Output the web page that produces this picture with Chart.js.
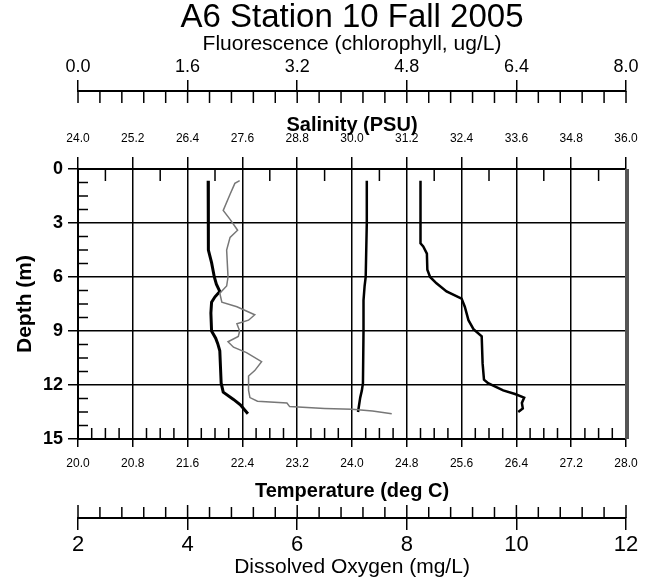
<!DOCTYPE html>
<html>
<head>
<meta charset="utf-8">
<script src="https://cdn.jsdelivr.net/npm/chart.js@4.4.1/dist/chart.umd.min.js"></script>
<style>
  body { margin: 0; background: #fff; }
  canvas { display: block; }
</style>
</head>
<body>
<canvas id="grafico" width="653" height="582"></canvas>
<script>
// profile data (depth in m)
var tempDepth = [0.65, 2.0, 3.5, 4.5, 5.2, 6.0, 6.4, 6.8, 7.1, 7.4, 8.0, 9.0, 9.4, 9.7, 10.1, 11.0, 11.9, 12.4, 12.8, 13.1, 13.6];
var temperatura = [21.90, 21.90, 21.90, 21.91, 21.95, 21.99, 22.02, 22.07, 22.00, 21.95, 21.94, 21.95, 22.01, 22.04, 22.07, 22.08, 22.09, 22.12, 22.27, 22.37, 22.48];

var fluorDepth = [0.65, 0.8, 1.4, 2.3, 2.8, 3.4, 3.8, 4.5, 6.0, 6.5, 6.9, 7.4, 7.65, 8.1, 8.4, 8.6, 9.0, 9.3, 9.6, 9.9, 10.2, 10.7, 11.2, 11.5, 12.3, 12.7, 12.9, 13.0, 13.2, 13.3, 13.35, 13.45, 13.6];
var fluorescencia = [2.36, 2.29, 2.22, 2.12, 2.22, 2.33, 2.22, 2.17, 2.19, 2.17, 2.07, 2.10, 2.32, 2.58, 2.49, 2.32, 2.36, 2.34, 2.19, 2.27, 2.46, 2.68, 2.58, 2.49, 2.49, 2.51, 2.62, 3.05, 3.09, 3.6, 4.0, 4.3, 4.58];

var doDepth = [0.65, 3.0, 6.0, 6.5, 7.3, 9.0, 11.9, 12.3, 12.7, 13.1, 13.5];
var oxigenio = [7.27, 7.27, 7.25, 7.23, 7.21, 7.21, 7.20, 7.18, 7.15, 7.13, 7.11];

var salDepth = [0.65, 4.13, 4.3, 4.7, 5.6, 6.0, 6.35, 6.8, 7.2, 7.65, 8.4, 8.9, 9.3, 10.8, 11.7, 11.9, 12.3, 12.5, 12.7, 13.0, 13.3, 13.5];
var salinidade = [31.50, 31.50, 31.56, 31.64, 31.65, 31.71, 31.85, 32.07, 32.40, 32.47, 32.55, 32.66, 32.84, 32.86, 32.89, 32.98, 33.31, 33.57, 33.77, 33.72, 33.74, 33.64];

// tick labels
var depthTicks = [0, 3, 6, 9, 12, 15];
var salTicks = [24.0, 25.2, 26.4, 27.6, 28.8, 30.0, 31.2, 32.4, 33.6, 34.8, 36.0];
var tempTicks = [20.0, 20.8, 21.6, 22.4, 23.2, 24.0, 24.8, 25.6, 26.4, 27.2, 28.0];
var fluorTicks = [0.0, 1.6, 3.2, 4.8, 6.4, 8.0];
var doTicks = [2, 4, 6, 8, 10, 12];

var fonte = "'Liberation Sans', Arial, sans-serif";
var fonteEstreita = "'Liberation Sans Narrow', 'Liberation Sans', Arial, sans-serif";

function pontos(xs, ys) {
    return xs.map(function (v, i) { return { x: v, y: ys[i] }; });
}

function fixTicks(lista) {
    return function (scale) {
        scale.ticks = lista.map(function (v) { return { value: v }; });
    };
}

// minor ticks and the detached outer axes
var marcasExtras = {
    id: 'marcasExtras',
    afterDraw: function (chart) {
        var ctx = chart.ctx;
        var area = chart.chartArea;
        var s = chart.scales;
        ctx.save();
        ctx.strokeStyle = '#000';
        ctx.lineWidth = 1.5;
        function seg(x1, y1, x2, y2) {
            ctx.beginPath();
            ctx.moveTo(x1, y1);
            ctx.lineTo(x2, y2);
            ctx.stroke();
        }
        var i, x, y;
        // fluorescence: ticks hanging below the axis line
        for (i = 0; i <= 25; i++) {
            x = s.fluor.getPixelForValue(i * 0.32);
            seg(x, s.fluor.bottom, x, s.fluor.bottom + 12);
        }
        // dissolved oxygen: ticks above the axis line
        for (i = 0; i <= 25; i++) {
            x = s.oxig.getPixelForValue(2 + i * 0.4);
            seg(x, s.oxig.top, x, s.oxig.top - (i % 5 === 0 ? 13 : 11));
        }
        // salinity minor ticks (top, pointing down)
        for (i = 0; i < 10; i++) {
            x = s.sal.getPixelForValue(24.6 + i * 1.2);
            seg(x, area.top, x, area.top + 12);
        }
        // temperature minor ticks (bottom, pointing up)
        for (i = 1; i < 40; i++) {
            if (i % 4 === 0) continue;
            x = s.temp.getPixelForValue(20 + i * 0.2);
            seg(x, area.bottom, x, area.bottom - 11);
        }
        // depth minor ticks (left, pointing right)
        for (i = 1; i < 20; i++) {
            if (i % 4 === 0) continue;
            y = s.y.getPixelForValue(i * 0.75);
            seg(area.left, y, area.left + 10, y);
        }
        // right frame
        ctx.strokeStyle = '#555';
        ctx.lineWidth = 4;
        seg(area.right + 1, area.top, area.right + 1, area.bottom);
        ctx.restore();
    }
};

var referencia = document.querySelector('#grafico').getContext('2d');

var grafico = new Chart(referencia, {
    type: 'scatter',
    data: {
        datasets: [{
            label: 'Fluorescence',
            xAxisID: 'fluor',
            yAxisID: 'y',
            data: pontos(fluorescencia, fluorDepth),
            borderColor: '#777',
            borderWidth: 1.5,
            showLine: true,
            pointRadius: 0
        }, {
            label: 'Temperature',
            xAxisID: 'temp',
            yAxisID: 'y',
            data: pontos(temperatura, tempDepth),
            borderColor: '#000',
            borderWidth: 3,
            showLine: true,
            pointRadius: 0
        }, {
            label: 'Dissolved Oxygen',
            xAxisID: 'oxig',
            yAxisID: 'y',
            data: pontos(oxigenio, doDepth),
            borderColor: '#000',
            borderWidth: 2.5,
            showLine: true,
            pointRadius: 0
        }, {
            label: 'Salinity',
            xAxisID: 'sal',
            yAxisID: 'y',
            data: pontos(salinidade, salDepth),
            borderColor: '#000',
            borderWidth: 2.5,
            showLine: true,
            pointRadius: 0
        }]
    },
    options: {
        responsive: false,
        animation: false,
        devicePixelRatio: 1,
        layout: { padding: { left: 0, right: 27, top: 0, bottom: 0 } },
        plugins: {
            legend: { display: false },
            tooltip: { enabled: false },
            title: {
                display: true,
                text: 'A6 Station 10 Fall 2005',
                color: '#000',
                fullSize: false,
                font: { family: fonte, size: 33, weight: 'normal', lineHeight: 1 },
                padding: { top: 1, bottom: 0 }
            }
        },
        scales: {
            y: {
                type: 'linear',
                position: 'left',
                reverse: true,
                min: 0,
                max: 15,
                afterBuildTicks: fixTicks(depthTicks),
                afterFit: function (s) { s.width = 78; },
                ticks: { color: '#000', padding: 5, font: { family: fonte, size: 18, weight: 'bold' } },
                grid: { color: '#000', lineWidth: 1.5, tickLength: 10 },
                border: { color: '#000', width: 2 },
                title: {
                    display: true,
                    text: 'Depth (m)',
                    color: '#000',
                    font: { family: fonte, size: 21, weight: 'bold', lineHeight: 1 },
                    padding: { top: 15, bottom: 0 }
                }
            },
            sal: {
                type: 'linear',
                axis: 'x',
                position: 'top',
                weight: 0,
                min: 24,
                max: 36,
                afterBuildTicks: fixTicks(salTicks),
                afterFit: function (s) { s.height = 78; },
                ticks: {
                    color: '#000', padding: 11, autoSkip: false, maxRotation: 0,
                    font: { family: fonteEstreita, size: 12 },
                    callback: function (v) { return v.toFixed(1); }
                },
                grid: { color: '#000', lineWidth: 1.5, tickLength: 12 },
                border: { color: '#000', width: 2 },
                title: {
                    display: true,
                    text: 'Salinity (PSU)',
                    color: '#000',
                    font: { family: fonte, size: 20, weight: 'bold', lineHeight: 1 },
                    padding: { top: 24, bottom: 0 }
                }
            },
            fluor: {
                type: 'linear',
                axis: 'x',
                position: 'top',
                weight: 1,
                min: 0,
                max: 8,
                afterBuildTicks: fixTicks(fluorTicks),
                afterFit: function (s) { s.height = 57; },
                ticks: {
                    color: '#000', padding: 2, autoSkip: false, maxRotation: 0,
                    font: { family: fonte, size: 18 },
                    callback: function (v) { return v.toFixed(1); }
                },
                grid: { drawOnChartArea: false, color: '#000', lineWidth: 1.5, tickLength: 11 },
                border: { color: '#000', width: 2 },
                title: {
                    display: true,
                    text: 'Fluorescence (chlorophyll, ug/L)',
                    color: '#000',
                    font: { family: fonte, size: 21, lineHeight: 1 },
                    padding: { top: 0, bottom: 0 }
                }
            },
            temp: {
                type: 'linear',
                axis: 'x',
                position: 'bottom',
                weight: 0,
                min: 20,
                max: 28,
                afterBuildTicks: fixTicks(tempTicks),
                afterFit: function (s) { s.height = 79; },
                ticks: {
                    color: '#000', padding: 9, autoSkip: false, maxRotation: 0,
                    font: { family: fonteEstreita, size: 12 },
                    callback: function (v) { return v.toFixed(1); }
                },
                grid: { drawOnChartArea: false, color: '#000', lineWidth: 1.5, tickLength: 8 },
                border: { color: '#000', width: 2 },
                title: {
                    display: true,
                    text: 'Temperature (deg C)',
                    color: '#000',
                    font: { family: fonte, size: 20, weight: 'bold', lineHeight: 1 },
                    padding: { top: 0, bottom: 17 }
                }
            },
            oxig: {
                type: 'linear',
                axis: 'x',
                position: 'bottom',
                weight: 1,
                min: 2,
                max: 12,
                afterBuildTicks: fixTicks(doTicks),
                afterFit: function (s) { s.height = 64; },
                ticks: {
                    color: '#000', padding: 2, autoSkip: false, maxRotation: 0,
                    font: { family: fonte, size: 22 }
                },
                grid: { drawOnChartArea: false, color: '#000', lineWidth: 1.5, tickLength: 12 },
                border: { color: '#000', width: 2 },
                title: {
                    display: true,
                    text: 'Dissolved Oxygen (mg/L)',
                    color: '#000',
                    font: { family: fonte, size: 21, lineHeight: 1 },
                    padding: { top: 0, bottom: 4 }
                }
            }
        }
    },
    plugins: [marcasExtras]
});
</script>
</body>
</html>
